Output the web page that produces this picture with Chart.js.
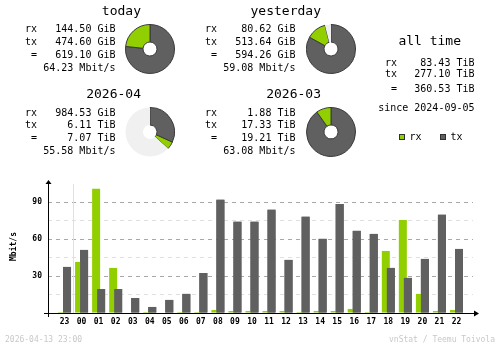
<!DOCTYPE html>
<html>
<head>
<meta charset="utf-8">
<title>vnStat summary</title>
<script src="https://cdn.jsdelivr.net/npm/chart.js@4.4.1/dist/chart.umd.min.js"></script>
<style>
    html, body { margin: 0; padding: 0; background: #fff; }
    #wrap {
        position: relative; width: 500px; height: 348px; overflow: hidden;
        font-family: 'DejaVu Sans Mono', monospace; color: #000;
    }
    #wrap canvas { position: absolute; }
    .txt  { position: absolute; white-space: pre; font-size: 10px; line-height: 10px; }
    .big  { font-size: 13px; line-height: 13px; }
    .tiny { font-size: 8px; line-height: 8px; color: #c8c8c8; }
    .sq   { position: absolute; width: 4px; height: 4px; border: 1px solid #303030; }
</style>
</head>
<body>
<div id="wrap">
    <canvas id="hourly" width="500" height="348" style="left:0;top:0"></canvas>
</div>
<script>
// period totals
const periods    = ['today', 'yesterday', '2026-04', '2026-03'];
const rxAmounts  = [144.50, 80.62, 984.53, 1.88];
const rxUnits    = ['GiB', 'GiB', 'GiB', 'TiB'];
const txAmounts  = [474.60, 513.64, 6.11, 17.33];
const txUnits    = ['GiB', 'GiB', 'TiB', 'TiB'];
const sumAmounts = [619.10, 594.26, 7.07, 19.21];
const sumUnits   = ['GiB', 'GiB', 'TiB', 'TiB'];
const avgRates   = [64.23, 59.08, 55.58, 63.08];

// all time (TiB)
const allTimeRx  = 83.43;
const allTimeTx  = 277.10;
const allTimeSum = 360.53;
const sinceDate  = '2024-09-05';

// hourly average rates, Mbit/s
const hours  = ['23', '00', '01', '02', '03', '04', '05', '06', '07', '08', '09', '10',
                '11', '12', '13', '14', '15', '16', '17', '18', '19', '20', '21', '22'];
const rxMbit = [0.8, 41.5, 100.8, 36.6, 0, 0.8, 0, 0.8, 0.8, 2.4, 1.6, 1.6,
                1.6, 1.6, 0.8, 1.6, 1.6, 3.3, 0.8, 50.4, 75.6, 15.5, 1.6, 2.4];
const txMbit = [37.4, 51.2, 19.5, 19.5, 12.2, 4.9, 10.6, 15.5, 32.5, 91.9, 74.0, 74.0,
                83.8, 43.1, 78.1, 60.2, 88.6, 66.7, 64.2, 36.6, 28.5, 43.9, 79.7, 52.0];
const yLabels = [30, 60, 90];

const stampText  = '2026-04-13 23:00';
const creditText = 'vnStat / Teemu Toivola';

const RX_COLOR = '#92cf00';
const TX_COLOR = '#606060';
const FONT     = 'DejaVu Sans Mono';

const wrap = document.getElementById('wrap');

// baseline offsets for line-height == font-size
const BASE = { txt: 8.5, big: 11, tiny: 6.8 };

function put(text, x, baseline, cls = 'txt', align = 'left') {
    const d = document.createElement('div');
    d.className = 'txt' + (cls !== 'txt' ? ' ' + cls : '');
    d.textContent = text;
    d.style.top = (baseline - BASE[cls]) + 'px';
    if (align === 'right') {
        d.style.right = (500 - x) + 'px';
        d.style.textAlign = 'right';
    } else {
        d.style.left = x + 'px';
    }
    wrap.appendChild(d);
    return d;
}

const fmt = (v, unit) => v.toFixed(2) + ' ' + unit;
const toGiB = (v, unit) => unit === 'TiB' ? v * 1024 : v;

function drawPie(i, cx, cy, scaleMax) {
    const cv = document.createElement('canvas');
    cv.width = 50; cv.height = 50;
    cv.style.left = (cx - 25) + 'px';
    cv.style.top  = (cy - 25) + 'px';
    wrap.appendChild(cv);

    const tx   = toGiB(txAmounts[i], txUnits[i]);
    const rx   = toGiB(rxAmounts[i], rxUnits[i]);
    const rest = Math.max(scaleMax - toGiB(sumAmounts[i], sumUnits[i]), 0);

    new Chart(cv, {
        type: 'doughnut',
        data: {
            datasets: [{
                data: [tx, rx, rest],
                backgroundColor: [TX_COLOR, RX_COLOR, '#f0f0f0'],
                borderColor: ['#3a3a3a', '#3a3a3a', '#f0f0f0'],
                borderWidth: [1, 1, 0],
            }]
        },
        options: {
            responsive: false,
            animation: false,
            events: [],
            devicePixelRatio: 1,
            cutout: 7,
            plugins: { legend: { display: false }, tooltip: { enabled: false } }
        }
    });
}

// four period blocks: text on the left, pie on the right
periods.forEach((name, i) => {
    const dx = (i % 2) * 180;
    const dy = Math.floor(i / 2) * 83.3;

    put(name, 141 + dx, 14.5 + dy, 'big', 'right');

    const b = 32.8 + dy, step = 12.75;
    put('rx', 25 + dx, b);
    put('tx', 25 + dx, b + step);
    put(' =', 25 + dx, b + step * 2);
    put(fmt(rxAmounts[i], rxUnits[i]), 115.5 + dx, b, 'txt', 'right');
    put(fmt(txAmounts[i], txUnits[i]), 115.5 + dx, b + step, 'txt', 'right');
    put(fmt(sumAmounts[i], sumUnits[i]), 115.5 + dx, b + step * 2, 'txt', 'right');
    put(avgRates[i].toFixed(2) + ' Mbit/s', 115.5 + dx, b + step * 3, 'txt', 'right');
});

// pies in each pair share the larger total as full circle
[[0, 1], [2, 3]].forEach(pair => {
    const maxTotal = Math.max(...pair.map(i => toGiB(sumAmounts[i], sumUnits[i])));
    pair.forEach(i => {
        drawPie(i, 150 + (i % 2) * 180.5, 49 + Math.floor(i / 2) * 83.3, maxTotal);
    });
});

// all time block
put('all time', 461, 45, 'big', 'right');
put('rx', 385, 66);
put('tx', 385, 77.5);
put(' =', 385, 92);
put(fmt(allTimeRx, 'TiB'), 474.5, 66, 'txt', 'right');
put(fmt(allTimeTx, 'TiB'), 474.5, 77.5, 'txt', 'right');
put(fmt(allTimeSum, 'TiB'), 474.5, 92, 'txt', 'right');
put('since ' + sinceDate, 474.5, 111.7, 'txt', 'right');

// legend
[['rx', RX_COLOR, 399], ['tx', TX_COLOR, 440]].forEach(([lbl, col, x]) => {
    const s = document.createElement('div');
    s.className = 'sq';
    s.style.left = x + 'px';
    s.style.top = '134px';
    s.style.background = col;
    wrap.appendChild(s);
    put(lbl, x + 10.5, 140);
});

// footer
put(stampText, 5, 343, 'tiny');
put(creditText, 495, 343, 'tiny', 'right');

// axis lines with arrow heads and the day change marker
const axisPlugin = {
    id: 'axisPlugin',
    beforeDatasetsDraw(chart) {
        const { ctx, chartArea: a } = chart;
        const xs = Math.round(chart.scales.x.getPixelForValue(hours.indexOf('00') - 0.5)) + 0.5;
        ctx.save();
        ctx.strokeStyle = '#e0e0e0';
        ctx.lineWidth = 1;
        ctx.beginPath();
        ctx.moveTo(xs, a.top + 4);
        ctx.lineTo(xs, a.bottom);
        ctx.stroke();
        ctx.restore();
    },
    afterDatasetsDraw(chart) {
        // tx bars overlap rx bars
        chart.getDatasetMeta(1).controller.draw();

        const { ctx, chartArea: a } = chart;
        const x0 = Math.round(a.left) + 0.5;
        const y0 = Math.round(a.bottom) + 0.5;
        ctx.save();
        ctx.strokeStyle = '#000';
        ctx.fillStyle = '#000';
        ctx.lineWidth = 1;
        ctx.beginPath();
        ctx.moveTo(x0, a.top + 3);
        ctx.lineTo(x0, a.bottom + 4);
        ctx.moveTo(a.left - 4, y0);
        ctx.lineTo(a.right + 3, y0);
        ctx.stroke();

        ctx.beginPath();
        ctx.moveTo(x0, a.top);
        ctx.lineTo(x0 + 3, a.top + 4);
        ctx.lineTo(x0 - 3, a.top + 4);
        ctx.closePath();
        ctx.fill();

        ctx.beginPath();
        ctx.moveTo(a.right + 6, y0);
        ctx.lineTo(a.right + 1, y0 - 3);
        ctx.lineTo(a.right + 1, y0 + 3);
        ctx.closePath();
        ctx.fill();
        ctx.restore();
    }
};

const tickFont = { family: FONT, size: 8, weight: 'bold' };

new Chart(document.getElementById('hourly'), {
    type: 'bar',
    data: {
        datasets: [{
            label: 'rx',
            data: rxMbit.map((v, i) => ({ x: i, y: v })),
            backgroundColor: RX_COLOR,
            categoryPercentage: 0.587,
            barPercentage: 1.6,
        }, {
            label: 'tx',
            data: txMbit.map((v, i) => ({ x: i, y: v })),
            backgroundColor: TX_COLOR,
            categoryPercentage: 0.587,
            barPercentage: 1.6,
        }]
    },
    options: {
        responsive: false,
        animation: false,
        events: [],
        devicePixelRatio: 1,
        layout: { padding: { top: 180, right: 27, left: 0, bottom: 0 } },
        plugins: { legend: { display: false }, tooltip: { enabled: false } },
        scales: {
            x: {
                type: 'linear',
                offset: false,
                min: -0.97,
                max: 23.97,
                grid: { display: false, drawTicks: false, offset: false },
                border: { display: false },
                ticks: {
                    stepSize: 1,
                    includeBounds: false,
                    autoSkip: false,
                    maxRotation: 0,
                    padding: 4,
                    color: '#000',
                    font: tickFont,
                    callback: v => Number.isInteger(v) ? hours[v] : ''
                },
                afterFit: s => { s.height = 35; }
            },
            y: {
                min: 0,
                max: 108,
                grid: {
                    drawTicks: false,
                    lineWidth: 1,
                    color: c => {
                        const v = c.tick.value;
                        if (v <= 0 || v > 90) return 'rgba(0,0,0,0)';
                        return v % 30 === 0 ? '#a8a8a8' : '#e0e0e0';
                    }
                },
                border: { display: false, dash: [4, 4] },
                ticks: {
                    stepSize: 15,
                    includeBounds: false,
                    autoSkip: false,
                    padding: 6,
                    color: '#000',
                    font: tickFont,
                    callback: v => yLabels.includes(v) ? String(v) : ''
                },
                title: {
                    display: true,
                    text: 'Mbit/s',
                    color: '#000',
                    font: { family: FONT, size: 8, weight: 'bold' },
                    padding: { top: 9, bottom: 0 }
                },
                afterFit: s => { s.width = 48; }
            }
        }
    },
    plugins: [axisPlugin]
});
</script>
</body>
</html>
